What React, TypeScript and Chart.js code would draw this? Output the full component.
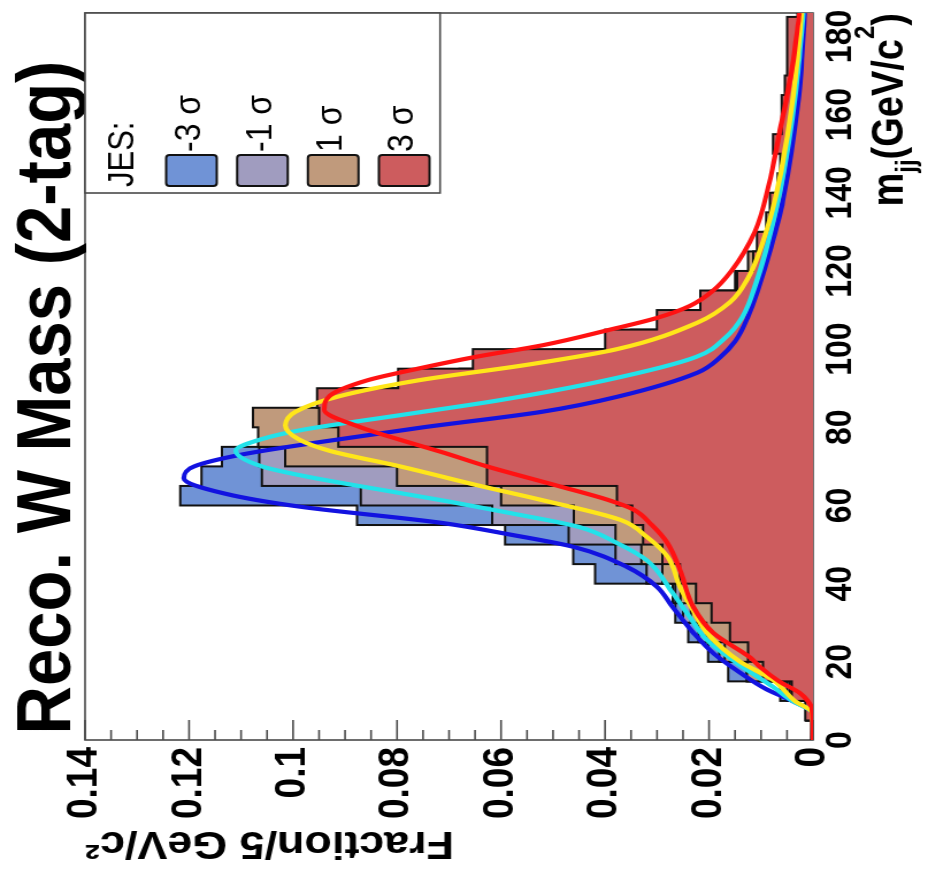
import React, { useEffect, useRef } from "react";
import { Chart, registerables } from "chart.js";

Chart.register(...registerables);

// ---------------- data ----------------
const BIN_LOW_EDGES = [0, 5, 10, 15, 20, 25, 30, 35, 40, 45, 50, 55, 60, 65, 70, 75, 80, 85, 90, 95, 100, 105, 110, 115, 120, 125, 130, 135, 140, 145, 150, 155, 160, 165, 170, 175, 180, 185];
const BIN_END = 190;

const HIST_M3 = [0.0003, 0.0012, 0.0063, 0.0163, 0.0202, 0.024, 0.0265, 0.027, 0.0419, 0.0461, 0.0592, 0.0877, 0.1217, 0.1176, 0.1137, 0.086, 0.056, 0.04, 0.028, 0.0205, 0.0165, 0.014, 0.0122, 0.0108, 0.0095, 0.0085, 0.0072, 0.0066, 0.0056, 0.005, 0.0046, 0.004, 0.0036, 0.0032, 0.0028, 0.0026, 0.0022, 0.002];
const HIST_M1 = [0.0003, 0.0013, 0.005, 0.0127, 0.018, 0.022, 0.025, 0.0265, 0.032, 0.038, 0.047, 0.0617, 0.087, 0.106, 0.1065, 0.098, 0.076, 0.056, 0.04, 0.029, 0.022, 0.0175, 0.0145, 0.0125, 0.0108, 0.0095, 0.0082, 0.0072, 0.0063, 0.0056, 0.005, 0.0045, 0.004, 0.0035, 0.0031, 0.0028, 0.0025, 0.0022];
const HIST_P1 = [0.0003, 0.0013, 0.0045, 0.0127, 0.017, 0.0205, 0.0235, 0.0255, 0.029, 0.033, 0.038, 0.046, 0.06, 0.08, 0.1015, 0.1067, 0.1077, 0.09, 0.068, 0.05, 0.035, 0.026, 0.0195, 0.015, 0.0125, 0.0105, 0.009, 0.0078, 0.0068, 0.006, 0.0054, 0.0048, 0.0043, 0.0038, 0.0034, 0.003, 0.0027, 0.0024];
const HIST_P3 = [0.0003, 0.0015, 0.0041, 0.0096, 0.0125, 0.016, 0.0195, 0.0225, 0.0256, 0.029, 0.0327, 0.0348, 0.0377, 0.0627, 0.0627, 0.0913, 0.095, 0.0954, 0.0798, 0.0654, 0.04, 0.03, 0.0217, 0.0146, 0.0115, 0.0108, 0.0083, 0.0083, 0.0063, 0.0063, 0.0077, 0.006, 0.006, 0.0054, 0.005, 0.005, 0.005, 0.003];

// fit curves: [m_jj, fraction]
const FIT_M3: [number, number][] = [[0, 0], [7, 0.0002], [10, 0.004], [13, 0.009], [17.2, 0.014], [22, 0.019], [27.4, 0.023], [34, 0.027], [39.2, 0.03], [44.3, 0.0358], [49.4, 0.046], [52.5, 0.058], [55.6, 0.0717], [59.7, 0.0987], [63, 0.113], [67, 0.121], [70, 0.119], [73, 0.11], [76, 0.096], [80, 0.075], [84, 0.052], [87.8, 0.0377], [94, 0.0222], [98, 0.0178], [102, 0.0150], [108, 0.0126], [116, 0.0104], [126, 0.0081], [138, 0.0058], [164, 0.0028], [186, 0.0016]];
const FIT_M1: [number, number][] = [[0, 0], [7, 0.0002], [10, 0.004], [13.6, 0.0077], [20, 0.015], [25.6, 0.0204], [32, 0.024], [37.6, 0.027], [46, 0.032], [50.4, 0.0377], [54.5, 0.045], [58, 0.058], [61, 0.07], [64, 0.083], [67.3, 0.097], [70, 0.106], [74, 0.111], [77, 0.106], [79.4, 0.098], [83, 0.08], [87, 0.06], [92, 0.04], [98, 0.0225], [103, 0.0168], [108, 0.0137], [118, 0.0107], [128, 0.0085], [140, 0.0064], [165, 0.0034], [186, 0.0019]];
const FIT_P1: [number, number][] = [[0, 0], [7, 0.0002], [10, 0.0035], [15.4, 0.0077], [20, 0.014], [27.4, 0.0204], [33, 0.023], [39.2, 0.0256], [46.9, 0.028], [52, 0.032], [56.3, 0.037], [61.5, 0.0525], [65, 0.064], [70, 0.0794], [74, 0.093], [77, 0.099], [80.5, 0.1015], [84, 0.0995], [88, 0.091], [92, 0.076], [96, 0.055], [100, 0.0377], [106.8, 0.0222], [112, 0.0160], [118, 0.0126], [128, 0.0095], [140, 0.0070], [165, 0.0038], [186, 0.0022]];
const FIT_P3: [number, number][] = [[0, 0], [8, 0.0002], [10, 0.001], [12, 0.0025], [15, 0.0065], [18.7, 0.0102], [21, 0.012], [27.4, 0.0192], [34, 0.023], [43.5, 0.0256], [50.4, 0.028], [55, 0.031], [59, 0.0346], [61.5, 0.0396], [65, 0.049], [70, 0.0627], [73.5, 0.071], [76.8, 0.0794], [80, 0.087], [84.5, 0.094], [88, 0.093], [92, 0.0858], [95, 0.076], [98, 0.065], [101, 0.052], [105, 0.039], [108, 0.030], [111, 0.0238], [115, 0.0192], [120, 0.0157], [130, 0.0112], [142, 0.0085], [155, 0.0065], [172, 0.0040], [186, 0.0026]];

const Y_TICKS = [0, 0.02, 0.04, 0.06, 0.08, 0.1, 0.12, 0.14];
const Y_MINOR_STEP = 0.005;
const X_TICKS = [0, 20, 40, 60, 80, 100, 120, 140, 160, 180];
const X_MIN = 0;
const X_MAX = 186;
const Y_MIN = 0;
const Y_MAX = 0.14;

const LEGEND_TITLE = "JES:";
const LEGEND_LABELS = ["-3 σ", "-1 σ", "1 σ", "3 σ"];
const TITLE = "Reco. W Mass (2-tag)";
const Y_TITLE = "Fraction/5 GeV/c²";

// ---------------- styles ----------------
const FILL_COLORS = ["#7093d6", "#a09cbf", "#c09a7c", "#cd5c5e"];
const FIT_COLORS = ["#1212e0", "#22e2ea", "#ffe619", "#ff1212"];
const FONT = "'Liberation Sans', Arial, Helvetica, sans-serif";
const STRETCH = 1.15;
const CW = 880;
const CH = Math.round(933 / STRETCH);
const FRAME_COLOR = "#4a4a4a";

function histPoints(vals: number[]) {
  const pts = BIN_LOW_EDGES.map((x, i) => ({ x, y: vals[i] }));
  pts.push({ x: BIN_END, y: vals[vals.length - 1] });
  return pts;
}
function fitPoints(arr: [number, number][]) {
  return arr.map(([x, y]) => ({ x, y }));
}

const framePlugin = {
  id: "frameTicks",
  beforeDatasetsDraw(chart: any) {
    const { ctx, chartArea: ca } = chart;
    const ys = chart.scales.y;
    ctx.save();
    ctx.strokeStyle = FRAME_COLOR;
    ctx.lineWidth = 1.6;
    ctx.strokeRect(ca.left, ca.top, ca.right - ca.left, ca.bottom - ca.top);
    const n = Math.round((Y_MAX - Y_MIN) / Y_MINOR_STEP);
    for (let i = 0; i <= n; i++) {
      const v = Y_MIN + i * Y_MINOR_STEP;
      const py = ys.getPixelForValue(v);
      const major = i % 4 === 0;
      ctx.beginPath();
      ctx.moveTo(ca.left, py);
      ctx.lineTo(ca.left + (major ? 20 : 10), py);
      ctx.stroke();
    }
    ctx.restore();
  },
};

const overlayPlugin = {
  id: "overlay",
  afterDraw(chart: any) {
    const { ctx, chartArea: ca } = chart;
    ctx.save();
    // title
    ctx.fillStyle = "#000";
    ctx.font = `bold 67px ${FONT}`;
    ctx.textAlign = "center";
    ctx.textBaseline = "alphabetic";
    ctx.fillText(TITLE, (ca.left + ca.right) / 2 - 21, 61);

    // legend
    const lw = 180;
    const lh = 308.7;
    const lx0 = ca.right - lw;
    const ly0 = ca.top;
    ctx.fillStyle = "#fff";
    ctx.fillRect(lx0, ly0, lw, lh);
    ctx.strokeStyle = FRAME_COLOR;
    ctx.lineWidth = 1.6;
    ctx.strokeRect(lx0, ly0, lw, lh);
    ctx.fillStyle = "#000";
    ctx.textAlign = "left";
    ctx.font = `31px ${FONT}`;
    ctx.fillText(LEGEND_TITLE, lx0 + 6, ly0 + 41.8);
    LEGEND_LABELS.forEach((lab, i) => {
      const cy = ly0 + 92.6 + 61.6 * i;
      ctx.beginPath();
      if ((ctx as any).roundRect) (ctx as any).roundRect(lx0 + 7, cy - 22, 31, 44, 3);
      else ctx.rect(lx0 + 7, cy - 22, 31, 44);
      ctx.fillStyle = FILL_COLORS[i];
      ctx.fill();
      ctx.strokeStyle = "#111";
      ctx.lineWidth = 2;
      ctx.stroke();
      ctx.fillStyle = "#000";
      ctx.font = `32px ${FONT}`;
      ctx.fillText(lab, lx0 + 41, cy + 7.5);
    });

    // x axis title: m_jj(GeV/c^2)
    const big = `bold 38px ${FONT}`;
    const small = `bold 24px ${FONT}`;
    const parts = [
      { t: "m", f: big, dy: 0 },
      { t: "jj", f: small, dy: 11 },
      { t: "(GeV/c", f: big, dy: 0 },
      { t: "2", f: small, dy: -25 },
      { t: ")", f: big, dy: 0 },
    ];
    let total = 0;
    const widths = parts.map((p) => {
      ctx.font = p.f;
      const w = ctx.measureText(p.t).width;
      total += w;
      return w;
    });
    let x = ca.right - total;
    const base = 785;
    parts.forEach((p, i) => {
      ctx.font = p.f;
      ctx.fillText(p.t, x, base + p.dy);
      x += widths[i];
    });
    ctx.restore();
  },
};

export default function App() {
  const ref = useRef<HTMLCanvasElement>(null);
  useEffect(() => {
    if (!ref.current) return;
    const histSets = [HIST_M3, HIST_M1, HIST_P1, HIST_P3].map((h, i) => ({
      type: "line" as const,
      label: LEGEND_LABELS[i],
      data: histPoints(h),
      stepped: "before" as const,
      borderColor: "#111",
      borderWidth: 2,
      backgroundColor: FILL_COLORS[i],
      fill: "origin",
      pointRadius: 0,
      order: 8 - i,
    }));
    const fitSets = [FIT_M3, FIT_M1, FIT_P1, FIT_P3].map((f, i) => ({
      type: "line" as const,
      label: "fit " + LEGEND_LABELS[i],
      data: fitPoints(f),
      borderColor: FIT_COLORS[i],
      borderWidth: 4.2,
      fill: false,
      pointRadius: 0,
      cubicInterpolationMode: "monotone" as const,
      order: 4 - i,
    }));
    const chart = new Chart(ref.current, {
      type: "line",
      data: { datasets: [...histSets, ...fitSets] as any },
      options: {
        animation: false,
        responsive: false,
        devicePixelRatio: 1,
        events: [],
        layout: { padding: { top: 74, right: 13, left: 0, bottom: 0 } },
        plugins: {
          legend: { display: false },
          tooltip: { enabled: false },
          title: { display: false },
        },
        scales: {
          x: {
            type: "linear",
            min: X_MIN,
            max: X_MAX,
            grid: { display: false, drawTicks: false },
            border: { display: false },
            ticks: {
              color: "#000",
              font: { family: FONT, size: 32, weight: "bold" },
              padding: 5,
              maxRotation: 0,
              autoSkip: false,
            },
            afterBuildTicks: (s: any) => {
              s.ticks = X_TICKS.map((value) => ({ value }));
            },
            afterFit: (s: any) => {
              s.height = 104;
            },
          },
          y: {
            type: "linear",
            min: Y_MIN,
            max: Y_MAX,
            grid: { display: false, drawTicks: false },
            border: { display: false },
            ticks: {
              color: "#000",
              font: { family: FONT, size: 37, weight: "bold" },
              padding: 7,
              autoSkip: false,
              callback: (v: any) => String(+Number(v).toFixed(3)),
            },
            afterBuildTicks: (s: any) => {
              s.ticks = Y_TICKS.map((value) => ({ value }));
            },
            afterFit: (s: any) => {
              s.width = 140;
            },
            title: {
              display: true,
              text: Y_TITLE,
              align: "end",
              color: "#000",
              font: { family: FONT, size: 39, weight: "bold" },
              padding: { top: 14, bottom: 0 },
            },
          },
        },
      },
      plugins: [framePlugin, overlayPlugin],
    } as any);
    return () => chart.destroy();
  }, []);

  return (
    <div style={{ position: "fixed", left: 0, top: 0, width: 933, height: 880, overflow: "hidden", background: "#fff" }}>
      <canvas
        ref={ref}
        width={CW}
        height={CH}
        style={{
          position: "absolute",
          left: 0,
          top: 0,
          width: CW,
          height: CH,
          transformOrigin: "0 0",
          transform: `translate(0px, ${CW}px) rotate(-90deg) scaleY(${STRETCH})`,
        }}
      />
    </div>
  );
}
